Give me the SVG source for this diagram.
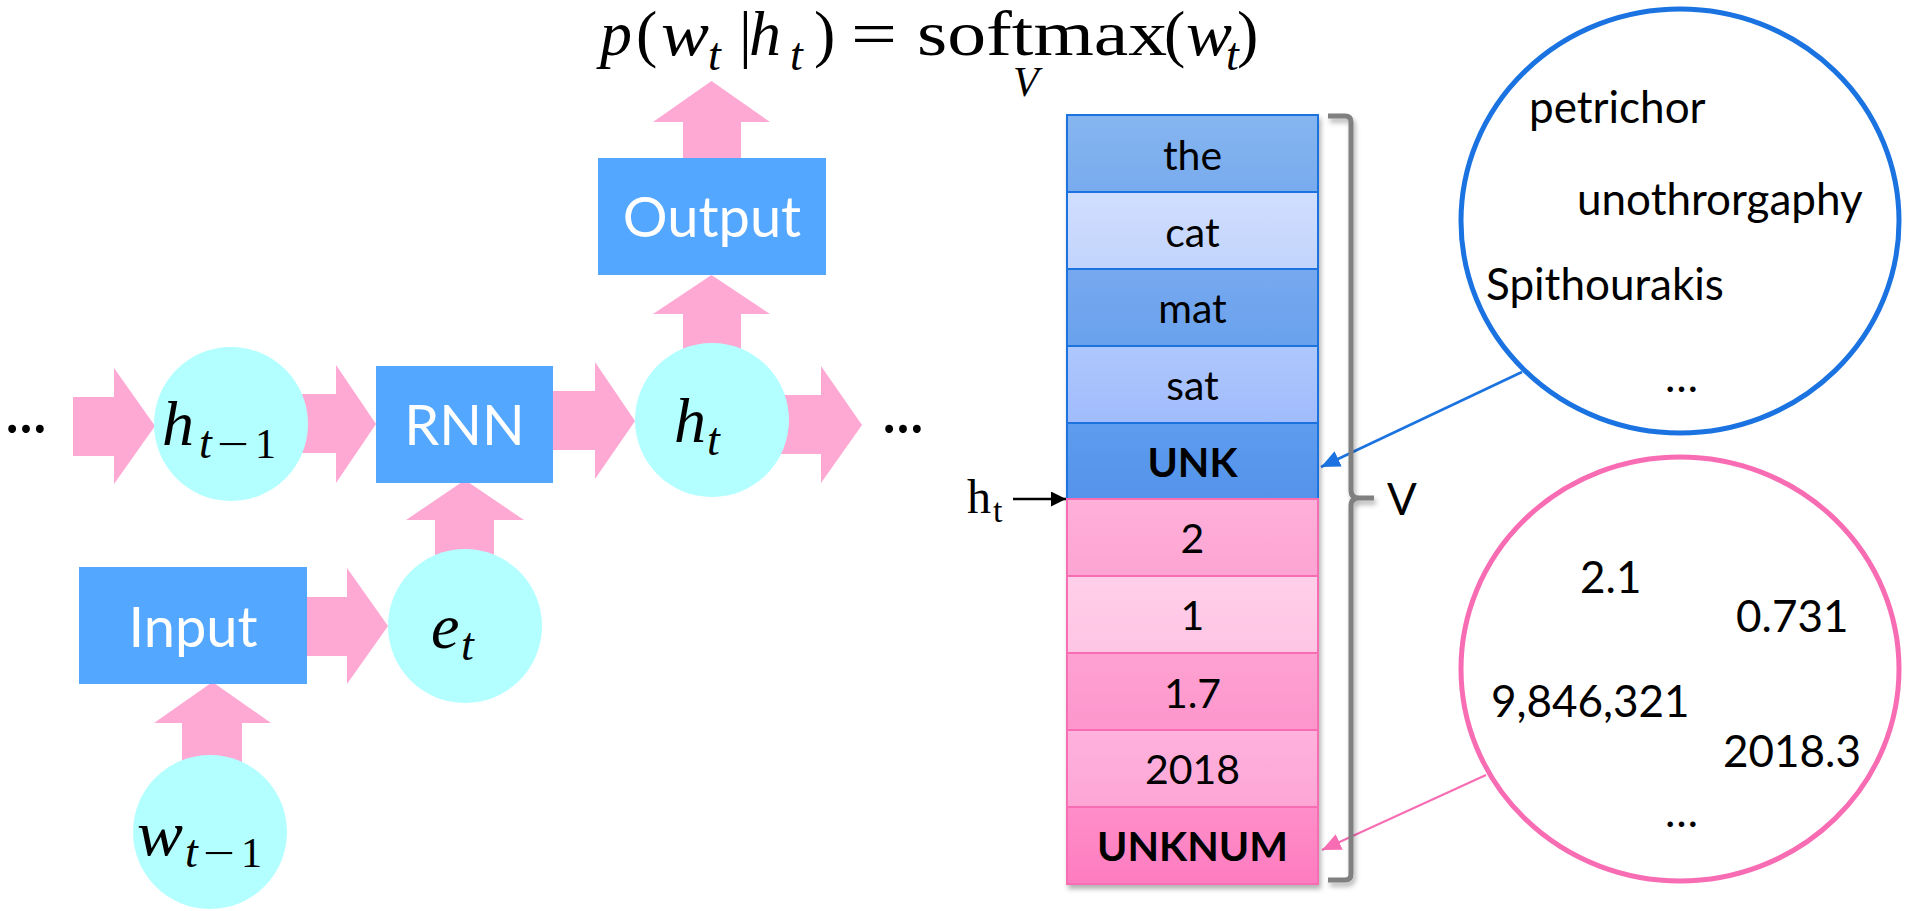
<svg xmlns="http://www.w3.org/2000/svg" width="1905" height="911" viewBox="0 0 1905 911">
  <style>
    .box { fill: #53a7fe; }
    .state { fill: #b3ffff; }
    .flow { fill: #fea8d4; }
    .label { font-family: Lato, "Liberation Sans", sans-serif; font-size: 56px; fill: #ffffff; text-anchor: middle; }
    .math { font-family: "Liberation Serif", "DejaVu Serif", serif; font-style: italic; fill: #000000; }
    .up { font-family: "Liberation Serif", "DejaVu Serif", serif; font-style: normal; fill: #000000; }
    .m64 { font-size: 64px; }
    .m62 { font-size: 62px; }
    .m46 { font-size: 46px; }
    .m42 { font-size: 42px; }
    .cell { font-family: Lato, "Liberation Sans", sans-serif; font-size: 41px; fill: #000000; text-anchor: middle; }
    .bold { font-weight: bold; }
    .word { font-family: Lato, "Liberation Sans", sans-serif; font-size: 44px; fill: #000000; }
    .dots { font-family: Lato, "Liberation Sans", sans-serif; font-size: 56px; font-weight: bold; fill: #000000; }
    .rowB { stroke: #1a73e0; stroke-width: 2; }
    .rowP { stroke: #f76cb3; stroke-width: 2; }
  </style>
  <defs>
    <linearGradient id="gThe" x1="0" y1="0" x2="0" y2="1"><stop offset="0" stop-color="#86b6f0"/><stop offset="1" stop-color="#78abee"/></linearGradient>
    <linearGradient id="gCat" x1="0" y1="0" x2="0" y2="1"><stop offset="0" stop-color="#d0defe"/><stop offset="1" stop-color="#c2d4fc"/></linearGradient>
    <linearGradient id="gMat" x1="0" y1="0" x2="0" y2="1"><stop offset="0" stop-color="#76a9ef"/><stop offset="1" stop-color="#6aa2ed"/></linearGradient>
    <linearGradient id="gSat" x1="0" y1="0" x2="0" y2="1"><stop offset="0" stop-color="#aec7fd"/><stop offset="1" stop-color="#a0bcfc"/></linearGradient>
    <linearGradient id="gUnk" x1="0" y1="0" x2="0" y2="1"><stop offset="0" stop-color="#5e9cee"/><stop offset="1" stop-color="#5393ea"/></linearGradient>
    <linearGradient id="gTwo" x1="0" y1="0" x2="0" y2="1"><stop offset="0" stop-color="#feb0d9"/><stop offset="1" stop-color="#fda4d3"/></linearGradient>
    <linearGradient id="gOne" x1="0" y1="0" x2="0" y2="1"><stop offset="0" stop-color="#ffcfe9"/><stop offset="1" stop-color="#fec5e4"/></linearGradient>
    <linearGradient id="gOneSeven" x1="0" y1="0" x2="0" y2="1"><stop offset="0" stop-color="#fea2d2"/><stop offset="1" stop-color="#fd96cc"/></linearGradient>
    <linearGradient id="gYear" x1="0" y1="0" x2="0" y2="1"><stop offset="0" stop-color="#feb2dc"/><stop offset="1" stop-color="#fda6d6"/></linearGradient>
    <linearGradient id="gUnkNum" x1="0" y1="0" x2="0" y2="1"><stop offset="0" stop-color="#ff8ec9"/><stop offset="1" stop-color="#fd7cc0"/></linearGradient>
    <filter id="shadow" x="-10%" y="-10%" width="130%" height="130%">
      <feDropShadow dx="2" dy="4" stdDeviation="2.5" flood-color="#000000" flood-opacity="0.3"/>
    </filter>
    <marker id="headBlack" markerUnits="userSpaceOnUse" markerWidth="16" markerHeight="16" refX="15" refY="7.5" orient="auto">
      <path d="M0,0 L15,7.5 L0,15 z" fill="#000000"/>
    </marker>
    <marker id="headBlue" markerUnits="userSpaceOnUse" markerWidth="20" markerHeight="18" refX="19" refY="8.5" orient="auto">
      <path d="M0,0 L19,8.5 L0,17 z" fill="#1a73e0"/>
    </marker>
    <marker id="headPink" markerUnits="userSpaceOnUse" markerWidth="20" markerHeight="18" refX="19" refY="8.5" orient="auto">
      <path d="M0,0 L19,8.5 L0,17 z" fill="#f76cb3"/>
    </marker>
  </defs>

  <rect x="0" y="0" width="1905" height="911" fill="#ffffff"/>

  <!-- output distribution formula -->
  <g id="formula">
    <text class="math m64" x="600" y="55">p</text>
    <text class="up m64" x="636" y="55">(</text>
    <text class="math m64" x="661" y="55" textLength="48" lengthAdjust="spacingAndGlyphs">w</text>
    <text class="math m46" x="708" y="70">t</text>
    <text class="up m64" x="739" y="55">|</text>
    <text class="math m64" x="749" y="55">h</text>
    <text class="math m46" x="790" y="70">t</text>
    <text class="up m64" x="814" y="55">)</text>
    <text class="up m64" x="851" y="55" textLength="46" lengthAdjust="spacingAndGlyphs">=</text>
    <text class="up m64" x="917" y="55" textLength="250" lengthAdjust="spacingAndGlyphs">softmax</text>
    <text class="math m42" x="1013" y="96">V</text>
    <text class="up m64" x="1164" y="55">(</text>
    <text class="math m64" x="1186" y="55" textLength="46" lengthAdjust="spacingAndGlyphs">w</text>
    <text class="math m46" x="1226" y="70">t</text>
    <text class="up m64" x="1237" y="55">)</text>
  </g>

  <!-- block arrows of the recurrent network and pointer lines -->
  <g id="connectors">
    <polygon class="flow" points="73,397 114,397 114,368 155,426 114,484 114,456 73,456"/>
    <polygon class="flow" points="290,394 336,394 336,365 376,424 336,483 336,453 290,453"/>
    <polygon class="flow" points="553,391 595,391 595,362 635,421 595,479 595,450 553,450"/>
    <polygon class="flow" points="770,395 821,395 821,366 862,425 821,483 821,454 770,454"/>
    <polygon class="flow" points="307,597 347,597 347,568 388,626 347,684 347,656 307,656"/>
    <polygon class="flow" points="683,158 683,122 653,122 711.5,81 770,122 741,122 741,158"/>
    <polygon class="flow" points="683,355 683,314 653,314 711.5,275 770,314 741,314 741,355"/>
    <polygon class="flow" points="435,560 435,520 406,520 465,480 524,520 494,520 494,560"/>
    <polygon class="flow" points="182,765 182,723 154,723 212.5,682 271,723 242,723 242,765"/>

    <line x1="1013" y1="499" x2="1066" y2="499" stroke="#000000" stroke-width="2.5" marker-end="url(#headBlack)"/>
    <line x1="1522" y1="372" x2="1321" y2="467" stroke="#1a73e0" stroke-width="2.5" marker-end="url(#headBlue)"/>
    <line x1="1486" y1="775" x2="1322" y2="850" stroke="#f76cb3" stroke-width="2" marker-end="url(#headPink)"/>
  </g>

  <text class="dots" x="6" y="433" textLength="40" lengthAdjust="spacingAndGlyphs">…</text>
  <text class="dots" x="883" y="433" textLength="40" lengthAdjust="spacingAndGlyphs">…</text>

  <g id="node-output">
    <rect class="box" x="598" y="158" width="228" height="117"/>
    <text class="label" x="712" y="237">Output</text>
  </g>
  <g id="node-rnn">
    <rect class="box" x="376" y="366" width="177" height="117"/>
    <text class="label" x="464.5" y="445">RNN</text>
  </g>
  <g id="node-input">
    <rect class="box" x="79" y="567" width="228" height="117"/>
    <text class="label" x="193" y="647">Input</text>
  </g>

  <g id="node-h-prev">
    <circle class="state" cx="231" cy="424" r="77"/>
    <text class="math m64" x="162" y="445">h</text>
    <text class="math m46" x="199" y="458">t</text>
    <text class="up m42" x="217" y="458" textLength="32" lengthAdjust="spacingAndGlyphs">−</text>
    <text class="up m42" x="255" y="458">1</text>
  </g>
  <g id="node-h">
    <circle class="state" cx="712" cy="420" r="77"/>
    <text class="math m64" x="674" y="442">h</text>
    <text class="math m46" x="707" y="455">t</text>
  </g>
  <g id="node-e">
    <circle class="state" cx="465" cy="626" r="77"/>
    <text class="math m64" x="431" y="648">e</text>
    <text class="math m46" x="461" y="660">t</text>
  </g>
  <g id="node-w-prev">
    <circle class="state" cx="210" cy="832" r="77"/>
    <text class="math m64" x="137" y="855" textLength="46" lengthAdjust="spacingAndGlyphs">w</text>
    <text class="math m46" x="185" y="867">t</text>
    <text class="up m42" x="203" y="867" textLength="32" lengthAdjust="spacingAndGlyphs">−</text>
    <text class="up m42" x="241" y="867">1</text>
  </g>

  <!-- vocabulary column -->
  <g id="vocabulary" filter="url(#shadow)">
    <rect class="rowB" x="1067" y="115" width="251" height="77" fill="url(#gThe)"/>
    <rect class="rowB" x="1067" y="192" width="251" height="77" fill="url(#gCat)"/>
    <rect class="rowB" x="1067" y="269" width="251" height="77" fill="url(#gMat)"/>
    <rect class="rowB" x="1067" y="346" width="251" height="77" fill="url(#gSat)"/>
    <rect class="rowB" x="1067" y="423" width="251" height="76" fill="url(#gUnk)"/>
    <rect class="rowP" x="1067" y="499" width="251" height="77" fill="url(#gTwo)"/>
    <rect class="rowP" x="1067" y="576" width="251" height="77" fill="url(#gOne)"/>
    <rect class="rowP" x="1067" y="653" width="251" height="77" fill="url(#gOneSeven)"/>
    <rect class="rowP" x="1067" y="730" width="251" height="77" fill="url(#gYear)"/>
    <rect class="rowP" x="1067" y="807" width="251" height="77" fill="url(#gUnkNum)"/>
  </g>
  <g id="vocabulary-labels">
    <text class="cell" x="1192.5" y="170">the</text>
    <text class="cell" x="1192.5" y="247">cat</text>
    <text class="cell" x="1192.5" y="323">mat</text>
    <text class="cell" x="1192.5" y="400">sat</text>
    <text class="cell bold" x="1192.5" y="477">UNK</text>
    <text class="cell" x="1192.5" y="553">2</text>
    <text class="cell" x="1192.5" y="630">1</text>
    <text class="cell" x="1192.5" y="708">1.7</text>
    <text class="cell" x="1192.5" y="784">2018</text>
    <text class="cell bold" x="1192.5" y="861">UNKNUM</text>
  </g>

  <g id="bracket" filter="url(#shadow)">
    <path d="M1328,116 H1345 Q1351,116 1351,122 V490 Q1351,498 1359,498 H1374 M1359,498 Q1351,498 1351,506 V874 Q1351,880 1345,880 H1328" fill="none" stroke="#808080" stroke-width="5"/>
  </g>
  <text class="word" x="1387" y="515" font-size="41">V</text>

  <g id="label-ht">
    <text class="up" x="967" y="513" font-size="48">h</text>
    <text class="up" x="993" y="522" font-size="34">t</text>
  </g>

  <g id="node-rare-words">
    <ellipse cx="1680" cy="221" rx="219" ry="212" fill="#ffffff" stroke="#1a73e0" stroke-width="5"/>
    <text class="word" x="1529" y="123">petrichor</text>
    <text class="word" x="1577" y="215">unothrorgaphy</text>
    <text class="word" x="1486" y="300">Spithourakis</text>
    <text class="word" x="1665" y="392">…</text>
  </g>

  <g id="node-numbers">
    <ellipse cx="1680" cy="669" rx="219" ry="212" fill="#ffffff" stroke="#f76cb3" stroke-width="5"/>
    <text class="word" x="1580" y="593">2.1</text>
    <text class="word" x="1736" y="632">0.731</text>
    <text class="word" x="1491" y="717">9,846,321</text>
    <text class="word" x="1723" y="767">2018.3</text>
    <text class="word" x="1665" y="827">…</text>
  </g>
</svg>
